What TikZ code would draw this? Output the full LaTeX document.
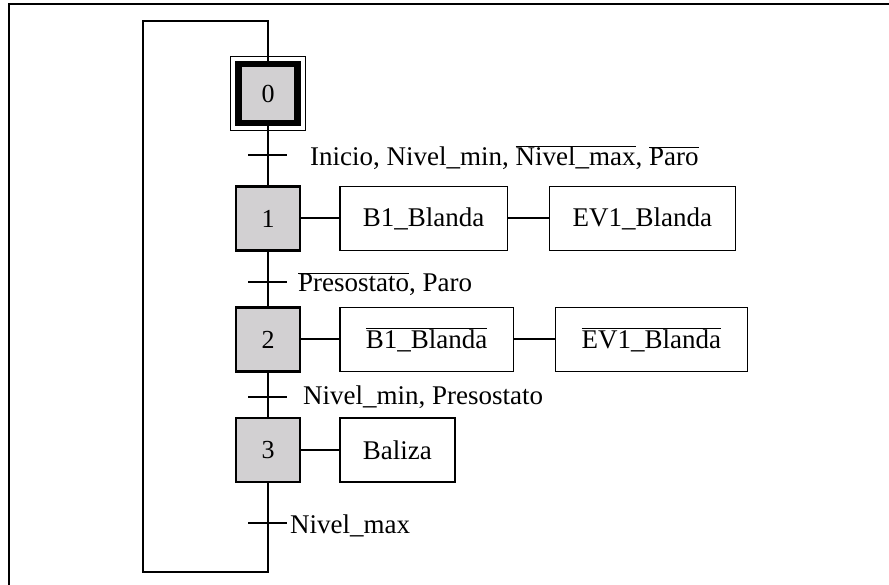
\documentclass[tikz,border=0pt]{standalone}
\usepackage{fontspec}
\setmainfont{Liberation Serif}
\usetikzlibrary{positioning}
\definecolor{stepgray}{RGB}{210,208,210}
\newcommand{\negado}[1]{$\overline{\mbox{#1}}$}

\begin{document}
\begin{tikzpicture}[
  x=1pt, y=1pt,
  node distance=38pt,
  etapa/.style={draw, line width=2.5pt, fill=stepgray, minimum width=64pt,
    minimum height=64pt, inner sep=0pt, font=\fontsize{26}{30}\selectfont},
  etapaini/.style={etapa, line width=6.5pt, minimum width=59pt, minimum height=59pt},
  accion/.style={draw, line width=1.3pt, minimum height=64pt, inner xsep=23pt,
    font=\fontsize{27}{30}\selectfont},
  enlace/.style={line width=2pt},
  receptividad/.style={anchor=base west, inner sep=0pt, font=\fontsize{27}{30}\selectfont}
]
\useasboundingbox (0,0) rectangle (889,585);
% marco
\draw[line width=2pt] (9,0) -- (9,581) -- (889,581);

% etapas
\node[etapaini] (s0) at (268,491.5) {0};
\draw[line width=1.5pt] ([shift={(-37.5,37)}]s0.center) rectangle ([shift={(37.5,-37)}]s0.center);
\node[etapa] (s1) at (268,366.5) {1};
\node[etapa] (s2) at (268,245.5) {2};
\node[etapa] (s3) at (268,135) {3};

% acciones
\node[accion, right=of s1] (a1) {B1\_Blanda};
\node[accion, right=41pt of a1] (a2) {EV1\_Blanda};
\node[accion, inner xsep=26pt, right=of s2] (a3) {\negado{B1\_Blanda}};
\node[accion, inner xsep=26pt, right=41pt of a3] (a4) {\negado{EV1\_Blanda}};
\node[accion, right=of s3] (a5) {Baliza};

% transiciones
\coordinate (t01) at (268,430);
\coordinate (t12) at (268,303);
\coordinate (t23) at (268,188);
\coordinate (t30) at (268,62);
\coordinate (retabajo) at (143,13);
\coordinate (retarriba) at (143,564);

\foreach \t in {t01,t12,t23,t30}
  \draw[enlace] ([xshift=-20pt]\t) -- ([xshift=19pt]\t);

\node[receptividad] (r01) at ([xshift=42pt,yshift=-11pt]t01) {Inicio, Nivel\_min, \negado{Nivel\_max}, \negado{Paro}};
\node[receptividad] (r12) at ([xshift=30pt,yshift=-10pt]t12) {\negado{Presostato}, Paro};
\node[receptividad] (r23) at ([xshift=35pt,yshift=-8pt]t23) {Nivel\_min, Presostato};
\node[receptividad] (r30) at ([xshift=22pt,yshift=-11pt]t30) {Nivel\_max};

% enlaces
\draw[enlace] (s0) -- (s1);
\draw[enlace] (s1) -- (s2);
\draw[enlace] (s2) -- (s3);
\draw[enlace] (s3.south) |- (retabajo) -- (retarriba) -| (s0.north);
\draw[enlace] (s1) -- (a1);
\draw[enlace] (a1) -- (a2);
\draw[enlace] (s2) -- (a3);
\draw[enlace] (a3) -- (a4);
\draw[enlace] (s3) -- (a5);
\end{tikzpicture}
\end{document}
